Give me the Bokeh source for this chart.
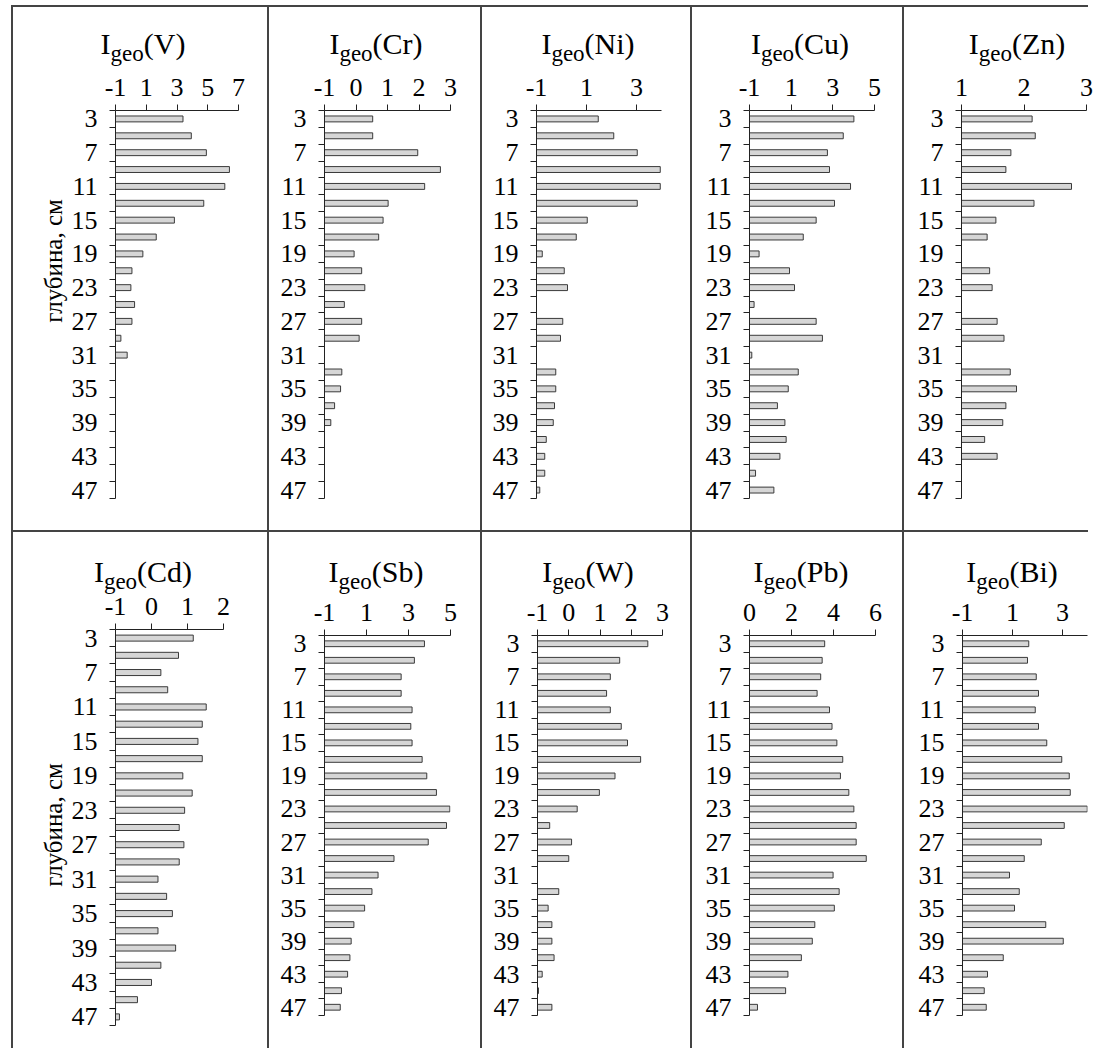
from bokeh.plotting import figure
from bokeh.layouts import row, column
from bokeh.models import Range1d, FixedTicker, Div, ColumnDataSource
from bokeh.embed import file_html
from bokeh.resources import INLINE

# ---------------- data ----------------
depth = list(range(3, 48, 2))            # sample depths, cm
depth_labels = list(range(3, 48, 4))     # labelled depths
depth_bounds = list(range(2, 49, 2))     # layer boundaries (tick marks)

V  = [3.39, 3.93, 4.91, 6.41, 6.11, 4.74, 2.83, 1.65, 0.78, 0.07, 0.00, 0.24, 0.07, -0.65, -0.24,
      None, None, None, None, None, None, None, None]
Cr = [0.53, 0.53, 1.96, 2.68, 2.18, 1.02, 0.86, 0.72, -0.06, 0.18, 0.28, -0.37, 0.18, 0.10, None,
      -0.45, -0.49, -0.68, -0.80, None, None, None, None]
Ni = [1.47, 2.09, 3.03, 3.95, 3.95, 3.03, 1.03, 0.59, -0.77, 0.11, 0.24, None, 0.05, -0.04, None,
      -0.23, -0.23, -0.28, -0.33, -0.61, -0.67, -0.67, -0.87]
Cu = [4.01, 3.50, 2.74, 2.84, 3.85, 3.08, 2.20, 1.58, -0.54, 0.92, 1.16, -0.78, 2.20, 2.50, -0.89,
      1.34, 0.86, 0.34, 0.70, 0.76, 0.46, -0.71, 0.17]
Zn = [2.13, 2.18, 1.79, 1.71, 2.76, 2.16, 1.55, 1.41, None, 1.45, 1.49, None, 1.57, 1.68, None,
      1.78, 1.88, 1.71, 1.66, 1.37, 1.57, None, None]
Cd = [1.16, 0.75, 0.26, 0.45, 1.52, 1.41, 1.29, 1.41, 0.87, 1.13, 0.92, 0.77, 0.90, 0.77, 0.18,
      0.42, 0.58, 0.18, 0.67, 0.26, 0.00, -0.39, -0.89]
Sb = [3.76, 3.28, 2.65, 2.65, 3.17, 3.11, 3.17, 3.65, 3.87, 4.33, 4.97, 4.81, 3.94, 2.31, 1.55,
      1.26, 0.91, 0.40, 0.27, 0.21, 0.10, -0.19, -0.25]
W  = [2.53, 1.63, 1.33, 1.21, 1.33, 1.68, 1.88, 2.30, 1.48, 0.98, 0.27, -0.61, 0.09, 0.00, None,
      -0.32, -0.66, -0.54, -0.54, -0.47, -0.85, -0.97, -0.54]
Pb = [3.58, 3.46, 3.39, 3.22, 3.81, 3.93, 4.16, 4.44, 4.33, 4.73, 4.97, 5.08, 5.08, 5.56, 3.98,
      4.27, 4.04, 3.11, 2.99, 2.47, 1.83, 1.72, 0.38]
Bi = [1.65, 1.60, 1.95, 2.04, 1.91, 2.04, 2.37, 2.97, 3.27, 3.31, 3.99, 3.07, 2.15, 1.47, 0.88,
      1.27, 1.08, 2.33, 3.03, 0.63, 0.00, -0.13, -0.05]

x_ticks = {
    "V": [-1, 1, 3, 5, 7], "Cr": [-1, 0, 1, 2, 3], "Ni": [-1, 1, 3], "Cu": [-1, 1, 3, 5],
    "Zn": [1, 2, 3], "Cd": [-1, 0, 1, 2], "Sb": [-1, 1, 3, 5], "W": [-1, 0, 1, 2, 3],
    "Pb": [0, 2, 4, 6], "Bi": [-1, 1, 3],
}
x_limits = {
    "V": (-1, 7), "Cr": (-1, 3), "Ni": (-1, 4), "Cu": (-1, 5), "Zn": (1, 3),
    "Cd": (-1, 2), "Sb": (-1, 5), "W": (-1, 3), "Pb": (0, 6), "Bi": (-1, 4),
}
y_title = "глубина, см"

# ---------------- style ----------------
FONT = "Liberation Serif"
CSS_FONT = "'Liberation Serif', 'Times New Roman', serif"
TICK_PX = 26
TITLE_PX = 30
SUB_PX = 23
YLAB_PX = 25
BAR_FILL = "#d6d6d6"
BAR_LINE = "#3a3a3a"
AX = "#222222"
RULE = "#444444"


def panel(elem, vals, W_, H_, bl, br, bt, bb):
    xr = x_limits[elem]
    p = figure(width=W_, height=H_, x_range=Range1d(*xr), y_range=Range1d(48, 2),
               output_backend="svg", toolbar_location=None, x_axis_location="above",
               min_border_left=bl, min_border_right=br, min_border_top=bt, min_border_bottom=bb,
               outline_line_color=None, background_fill_color="white",
               border_fill_color=None)
    p.xgrid.visible = False
    p.ygrid.visible = False

    ys = [d for d, v in zip(depth, vals) if v is not None]
    rs = [v for v in vals if v is not None]
    src = ColumnDataSource(dict(y=ys, right=rs, left=[xr[0]] * len(ys)))
    p.hbar(y="y", left="left", right="right", height=0.7, source=src,
           fill_color=BAR_FILL, line_color=BAR_LINE, line_width=1)

    xa = p.xaxis[0]
    xa.ticker = FixedTicker(ticks=x_ticks[elem], minor_ticks=[])
    xa.major_label_overrides = {t: str(t) for t in x_ticks[elem]}
    xa.major_tick_out = 6
    xa.major_tick_in = 0
    xa.minor_tick_out = 0
    xa.minor_tick_in = 0
    xa.major_label_standoff = 9
    ya = p.yaxis[0]
    ya.ticker = FixedTicker(ticks=depth_labels, minor_ticks=depth_bounds)
    ya.major_tick_out = 0
    ya.major_tick_in = 0
    ya.minor_tick_out = 6
    ya.minor_tick_in = 0
    ya.major_label_standoff = 12
    for a in (xa, ya):
        a.axis_line_color = AX
        a.major_tick_line_color = AX
        a.minor_tick_line_color = AX
        a.major_label_text_font = FONT
        a.major_label_text_font_size = f"{TICK_PX}px"
        a.major_label_text_color = "black"
    return p


def title_div(elem, w, pad_top, pad_left):
    html = (f'<div style="width:{w}px;box-sizing:border-box;padding-top:{pad_top}px;'
            f'padding-left:{pad_left}px;text-align:center;font-family:{CSS_FONT};'
            f'font-size:{TITLE_PX}px;line-height:{TITLE_PX}px;color:#000;white-space:nowrap;">'
            f'I<sub style="font-size:{SUB_PX}px;vertical-align:-7px;line-height:0;">geo</sub>'
            f'({elem})</div>')
    return Div(text=html, width=w, height=50, margin=0,
               styles={"overflow": "visible", "position": "relative", "z-index": "2"})


def ylab_div(w, h, cx, cy):
    html = (f'<div style="position:relative;width:{w}px;height:{h}px;">'
            f'<div style="position:absolute;left:{cx}px;top:{cy}px;'
            f'transform:translate(-50%,-50%) rotate(-90deg);white-space:nowrap;'
            f'font-family:{CSS_FONT};font-size:{YLAB_PX}px;line-height:{YLAB_PX}px;color:#000;">'
            f'{y_title}</div></div>')
    return Div(text=html, width=w, height=h, margin=0)


def vline(h):
    return Div(width=2, height=h, margin=0, styles={"background-color": RULE})


def hline(w):
    return Div(width=w, height=2, margin=0, styles={"background-color": RULE})


def spacer(w, h):
    return Div(width=w, height=h, margin=0)


R1, R2 = 523, 516          # row heights (title strip 50 px + figure)
F1, F2 = R1 - 50, R2 - 50  # figure heights
YL = 55                    # width of the y-label strip in column 1

row1 = row(
    spacer(11, R1),
    vline(R1),
    column(title_div("V", 254, 22, 6),
           row(ylab_div(YL, F1, 40, 204), panel("V", V, 254 - YL, F1, 47, 29, 53, 32), spacing=0),
           spacing=0),
    vline(R1),
    column(title_div("Cr", 211, 22, 3), panel("Cr", Cr, 211, F1, 55, 30, 53, 32), spacing=0),
    vline(R1),
    column(title_div("Ni", 208, 22, 4), panel("Ni", Ni, 208, F1, 54, 29, 53, 32), spacing=0),
    vline(R1),
    column(title_div("Cu", 210, 22, 6), panel("Cu", Cu, 210, F1, 57, 28, 53, 32), spacing=0),
    vline(R1),
    column(title_div("Zn", 192, 22, 34), panel("Zn", Zn, 192, F1, 57, 10, 53, 32), spacing=0),
    spacing=0,
)
row2 = row(
    spacer(11, R2),
    vline(R2),
    column(title_div("Cd", 254, 25, 6),
           row(ylab_div(YL, F2, 40, 243), panel("Cd", Cd, 254 - YL, F2, 43, 44, 47, 23), spacing=0),
           spacing=0),
    vline(R2),
    column(title_div("Sb", 211, 25, 3), panel("Sb", Sb, 211, F2, 55, 30, 53, 33), spacing=0),
    vline(R2),
    column(title_div("W", 208, 25, 4), panel("W", W, 208, F2, 55, 28, 53, 33), spacing=0),
    vline(R2),
    column(title_div("Pb", 210, 25, 8), panel("Pb", Pb, 210, F2, 57, 27, 53, 33), spacing=0),
    vline(R2),
    column(title_div("Bi", 192, 25, 24), panel("Bi", Bi, 192, F2, 58, 9, 53, 33), spacing=0),
    spacing=0,
)
top = column(spacer(1088, 5), row(spacer(11, 2), hline(1077), spacing=0), spacing=0)
mid = row(spacer(11, 2), hline(1077), spacing=0)
layout = column(top, row1, mid, row2, spacing=0)

open("out.html", "w").write(file_html(layout, INLINE))
